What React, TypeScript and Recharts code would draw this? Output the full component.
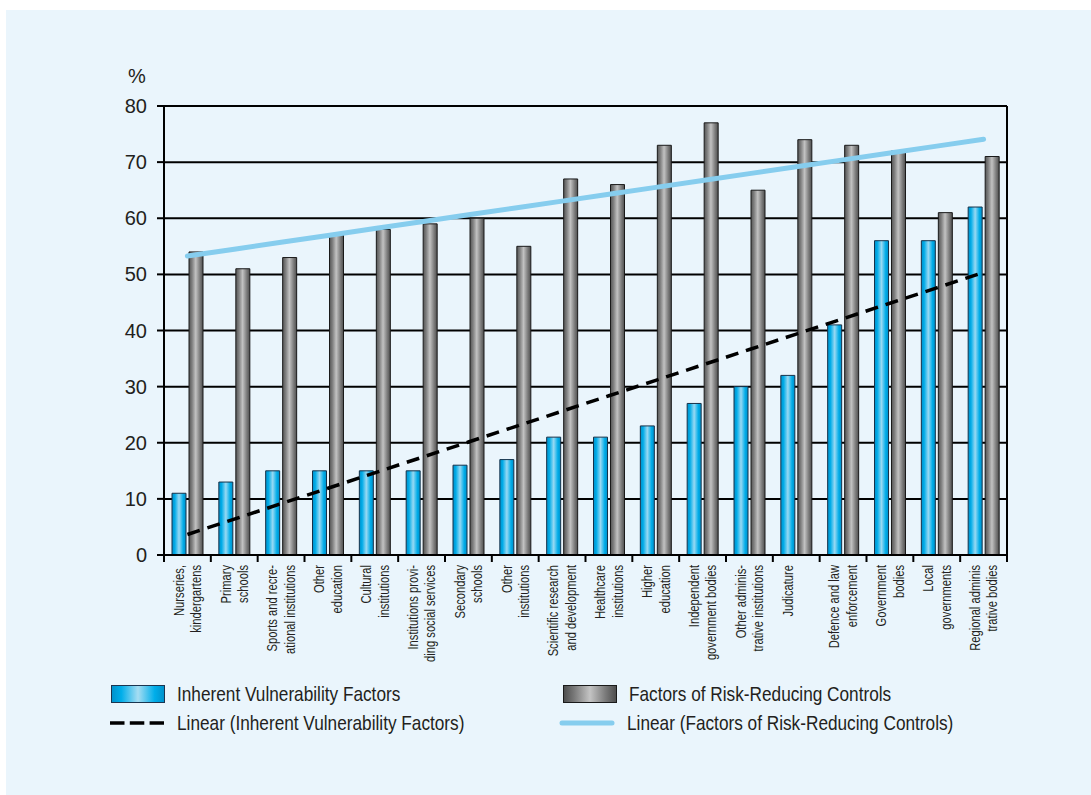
import React from "react";
import {
  Bar,
  CartesianGrid,
  ComposedChart,
  Line,
  XAxis,
  YAxis,
} from "recharts";

const categories = [
  "Nurseries,\nkindergartens",
  "Primary\nschools",
  "Sports and recre-\national institutions",
  "Other\neducation",
  "Cultural\ninstitutions",
  "Institutions provi-\nding social services",
  "Secondary\nschools",
  "Other\ninstitutions",
  "Scientific research\nand development",
  "Healthcare\ninstitutions",
  "Higher\neducation",
  "Independent\ngovernment bodies",
  "Other adminis-\ntrative institutions",
  "Judicature\n",
  "Defence and law\nenforcement",
  "Government\nbodies",
  "Local\ngovernments",
  "Regional adminis\ntrative bodies",
];

const inherentVulnerability = [11, 13, 15, 15, 15, 15, 16, 17, 21, 21, 23, 27, 30, 32, 41, 56, 56, 62];
const riskReducingControls = [54, 51, 53, 57, 58, 59, 60, 55, 67, 66, 73, 77, 65, 74, 73, 72, 61, 71];
const yTicks = [0, 10, 20, 30, 40, 50, 60, 70, 80];

// least-squares trendline, evaluated at each category index (1-based like Excel)
function linearTrend(values: number[]): number[] {
  const n = values.length;
  const xs = values.map((_, i) => i + 1);
  const mx = xs.reduce((a, b) => a + b, 0) / n;
  const my = values.reduce((a, b) => a + b, 0) / n;
  let sxy = 0;
  let sxx = 0;
  xs.forEach((x, i) => {
    sxy += (x - mx) * (values[i] - my);
    sxx += (x - mx) * (x - mx);
  });
  const slope = sxy / sxx;
  return xs.map((x) => my + slope * (x - mx));
}

const ivTrend = linearTrend(inherentVulnerability);
const rcTrend = linearTrend(riskReducingControls);

const data = categories.map((name, i) => ({
  name,
  iv: inherentVulnerability[i],
  rc: riskReducingControls[i],
  ivTrend: ivTrend[i],
  rcTrend: rcTrend[i],
}));

const CHART_W = 1085;
const CHART_H = 785;
const LEFT = 158;
const RIGHT = 84;
const TOP = 96;
const XAXIS_H = 240;
const BAND = (CHART_W - LEFT - RIGHT) / categories.length;

const BG = "#EAF5FC";
const INK = "#231F20";
const SANS = "'Liberation Sans', Arial, sans-serif";
const TREND_BLUE = "#86CDEE";
// condensed look: regular sans squeezed along the reading direction
const TICK_SQUEEZE = 0.8;
const LEGEND_SQUEEZE = 0.82;

function CategoryTick(props: any) {
  const { x, y, payload, index } = props;
  const lines: string[] = String(payload.value).split("\n");
  const lineH = 17.5;
  const fs = 14;
  return (
    <g>
      <line x1={x - BAND / 2} y1={y} x2={x - BAND / 2} y2={y + 7} stroke="#000" strokeWidth={2} />
      {index === categories.length - 1 && (
        <line x1={x + BAND / 2} y1={y} x2={x + BAND / 2} y2={y + 7} stroke="#000" strokeWidth={2} />
      )}
      <g transform={`translate(${x},${y + 10}) rotate(-90) scale(${TICK_SQUEEZE},1)`}>
        <text textAnchor="end" fontSize={fs} fontFamily={SANS} fill={INK}>
          {lines.map((line, i) => (
            <tspan key={i} x={0} y={(i - (lines.length - 1) / 2) * lineH + fs * 0.36}>
              {line}
            </tspan>
          ))}
        </text>
      </g>
    </g>
  );
}

function Swatch({ kind }: { kind: "blue" | "gray" | "dash" | "line" }) {
  if (kind === "blue" || kind === "gray") {
    const bg =
      kind === "blue"
        ? "linear-gradient(to right, #0092CC 0%, #00AEEA 18%, #A6DDF2 50%, #00AEEA 82%, #0092CC 100%)"
        : "linear-gradient(to right, #4E4E4E 0%, #7A7A7A 20%, #C4C4C4 50%, #7A7A7A 80%, #4E4E4E 100%)";
    return (
      <div
        style={{
          width: 52,
          height: 16,
          background: bg,
          border: `1px solid ${kind === "blue" ? "#1B3550" : "#1A1A1A"}`,
        }}
      />
    );
  }
  return (
    <svg width={56} height={18}>
      {kind === "dash" ? (
        <line x1={1} y1={9} x2={55} y2={9} stroke="#000" strokeWidth={3.5} strokeDasharray="14.5 5.3" />
      ) : (
        <line x1={3} y1={9} x2={53} y2={9} stroke={TREND_BLUE} strokeWidth={5} strokeLinecap="round" />
      )}
    </svg>
  );
}

const legendItems: Array<{ kind: "blue" | "gray" | "dash" | "line"; text: string; left: number; top: number }> = [
  { kind: "blue", text: "Inherent Vulnerability Factors", left: 105, top: 672 },
  { kind: "gray", text: "Factors of Risk-Reducing Controls", left: 557, top: 672 },
  { kind: "dash", text: "Linear (Inherent Vulnerability Factors)", left: 103, top: 701 },
  { kind: "line", text: "Linear (Factors of Risk-Reducing Controls)", left: 553, top: 701 },
];

export default function App() {
  return (
    <div
      style={{
        position: "absolute",
        left: 6,
        top: 10,
        width: CHART_W,
        height: CHART_H,
        background: BG,
      }}
    >
      <ComposedChart
        width={CHART_W}
        height={CHART_H}
        data={data}
        margin={{ top: TOP, right: 0, bottom: 0, left: 0 }}
        barSize={14}
        barGap={3}
      >
        <defs>
          <linearGradient id="ivFill" x1="0" y1="0" x2="1" y2="0">
            <stop offset="0%" stopColor="#0090CA" />
            <stop offset="20%" stopColor="#00ACE8" />
            <stop offset="50%" stopColor="#98D9F3" />
            <stop offset="80%" stopColor="#00ACE8" />
            <stop offset="100%" stopColor="#0090CA" />
          </linearGradient>
          <linearGradient id="rcFill" x1="0" y1="0" x2="1" y2="0">
            <stop offset="0%" stopColor="#555555" />
            <stop offset="22%" stopColor="#808080" />
            <stop offset="48%" stopColor="#C2C2C2" />
            <stop offset="78%" stopColor="#7C7C7C" />
            <stop offset="100%" stopColor="#4F4F4F" />
          </linearGradient>
        </defs>
        <CartesianGrid vertical={false} stroke="#000" strokeWidth={2} strokeOpacity={1} />
        <XAxis
          dataKey="name"
          height={XAXIS_H}
          interval={0}
          tickLine={false}
          tickSize={0}
          tickMargin={0}
          axisLine={{ stroke: "#000", strokeWidth: 2 }}
          tick={<CategoryTick />}
        />
        <YAxis
          width={LEFT}
          domain={[0, 80]}
          ticks={yTicks}
          interval={0}
          tickSize={7}
          tickMargin={10}
          axisLine={{ stroke: "#000", strokeWidth: 2 }}
          tickLine={{ stroke: "#000", strokeWidth: 2 }}
          tick={{ fontSize: 20, fill: INK, fontFamily: SANS }}
        />
        <YAxis
          yAxisId="frame"
          orientation="right"
          width={RIGHT}
          domain={[0, 80]}
          tick={false}
          tickLine={false}
          axisLine={{ stroke: "#000", strokeWidth: 2 }}
        />
        <Bar dataKey="iv" fill="url(#ivFill)" stroke="#16324A" strokeWidth={1} isAnimationActive={false} />
        <Bar dataKey="rc" fill="url(#rcFill)" stroke="#1A1A1A" strokeWidth={1} isAnimationActive={false} />
        <Line
          dataKey="ivTrend"
          type="linear"
          stroke="#000"
          strokeWidth={3.5}
          strokeDasharray="13 8"
          dot={false}
          activeDot={false}
          isAnimationActive={false}
        />
        <Line
          dataKey="rcTrend"
          type="linear"
          stroke={TREND_BLUE}
          strokeWidth={5}
          strokeLinecap="round"
          dot={false}
          activeDot={false}
          isAnimationActive={false}
        />
      </ComposedChart>

      <div
        style={{
          position: "absolute",
          left: 122,
          top: 55,
          fontFamily: SANS,
          fontSize: 20,
          color: INK,
        }}
      >
        %
      </div>

      {legendItems.map((item) => (
        <div
          key={item.text}
          style={{
            position: "absolute",
            left: item.left,
            top: item.top,
            display: "flex",
            alignItems: "center",
            gap: 12,
            fontFamily: SANS,
            fontSize: 21,
            color: INK,
            whiteSpace: "nowrap",
          }}
        >
          <Swatch kind={item.kind} />
          <span
            style={{
              display: "inline-block",
              transform: `scaleX(${LEGEND_SQUEEZE})`,
              transformOrigin: "left center",
            }}
          >
            {item.text}
          </span>
        </div>
      ))}
    </div>
  );
}
